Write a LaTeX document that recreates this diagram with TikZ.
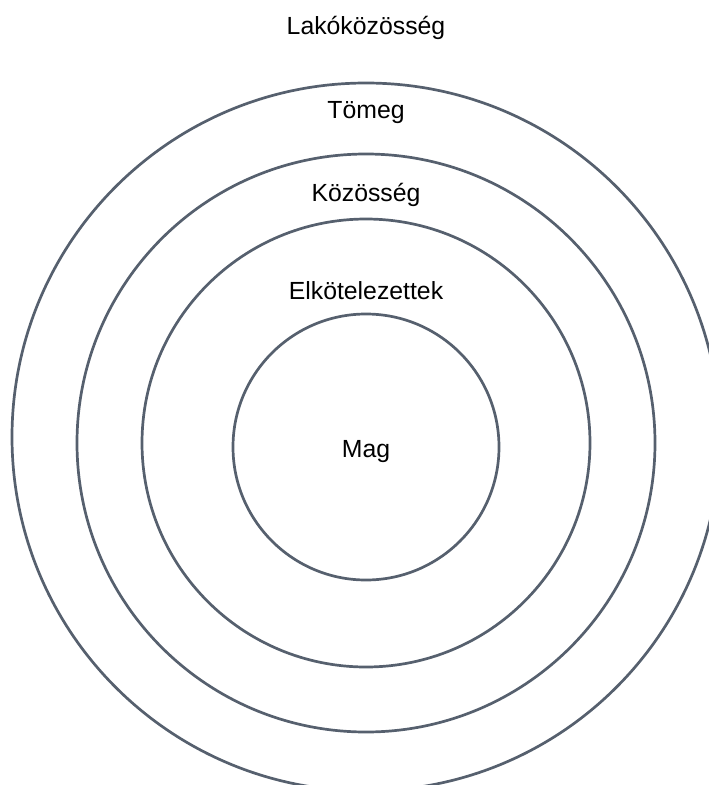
\documentclass[tikz,border=0pt]{standalone}
\usepackage{fontspec}
\setmainfont{Liberation Sans}
\definecolor{ringgray}{HTML}{56606E}
\begin{document}
\begin{tikzpicture}[x=1pt, y=-1pt, font=\fontsize{24.8}{30}\selectfont, line join=round, line cap=round]
\tikzset{ring/.style={draw=ringgray, line width=2.7pt}, lbl/.style={inner sep=0pt, anchor=center}}
\useasboundingbox (0,0) rectangle (709,785);
\clip (0,0) rectangle (709,785);
% rings, outside in: radius/centre y
\foreach \r/\cy in {354/437,289/443,224/443,133/447} \draw[ring] (366,\cy) circle[radius=\r pt];
\coordinate (O) at (366,452);
\node[lbl] (lako) at (366,28) {Lakóközösség};
\node[lbl] (tomeg) at (366,113) {Tömeg};
\node[lbl] (kozos) at (366,195) {Közösség};
\node[lbl] (elkot) at (366,291) {Elkötelezettek};
\node[lbl] (mag) at (O) {Mag};
\end{tikzpicture}
\end{document}
